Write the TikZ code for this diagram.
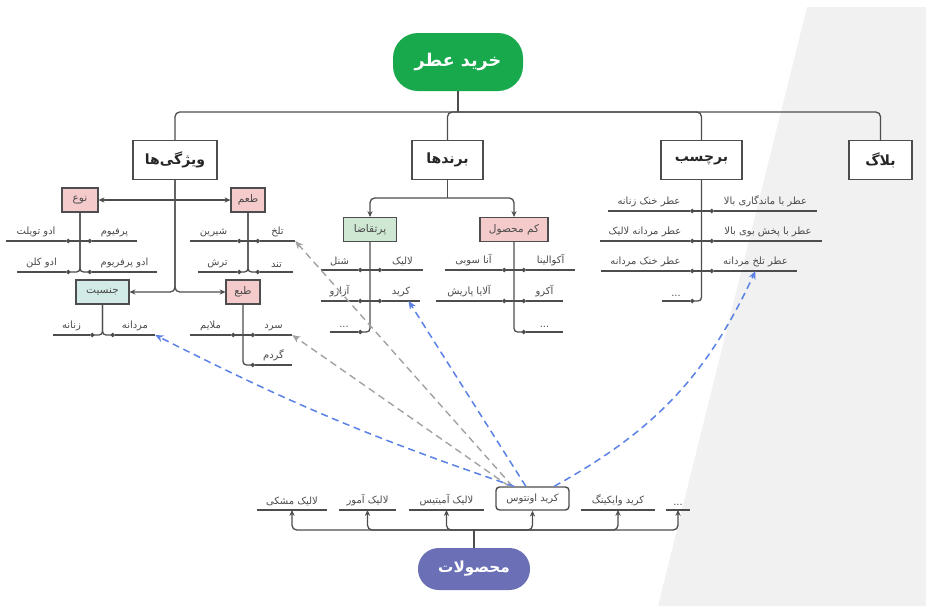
\documentclass[tikz,border=0pt]{standalone}
\usepackage{fontspec}
\newfontfamily\fafont[Script=Arabic]{DejaVu Sans}
\TeXXeTstate=1
\usetikzlibrary{arrows.meta}
\newcommand{\fatext}[1]{{\fafont\beginR #1\endR}}
\definecolor{linecol}{HTML}{4D4D4D}
\definecolor{leaftext}{HTML}{4A4A4A}
\definecolor{rootgreen}{HTML}{17A94C}
\definecolor{prodblue}{HTML}{6A6FB6}
\definecolor{pinkfill}{HTML}{F5CACA}
\definecolor{greenfill}{HTML}{CFE8D3}
\definecolor{tealfill}{HTML}{D2EBE7}
\definecolor{bluedash}{HTML}{5B82E4}
\definecolor{graydash}{HTML}{A2A2A2}
\definecolor{bggray}{HTML}{F1F1F1}
\tikzset{
	branch/.style={draw=linecol, line width=1.1pt},
	twig/.style={branch, -{Circle[length=3.6pt]}},
	feed/.style={branch, -{Stealth[length=5pt, width=4.5pt]}},
	leaf/.style={anchor=south, inner xsep=0pt, inner ysep=3.5pt, text=leaftext, font=\fontsize{8.5}{10}\selectfont,
		append after command={(\tikzlastnode.south west) edge [branch] (\tikzlastnode.south east)}},
	catbox/.style={draw=linecol, line width=1.2pt, fill=white, minimum height=1.17cm, text=black!85, font=\fontsize{12}{14}\selectfont\bfseries},
	subbox/.style={draw=linecol, line width=1pt, minimum height=0.72cm, text=leaftext, font=\fontsize{9}{11}\selectfont},
	bluelink/.style={draw=bluedash, line width=1.3pt, dash pattern=on 6pt off 4pt, -{Stealth[length=7pt, width=6pt]}},
	graylink/.style={draw=graydash, line width=1.2pt, dash pattern=on 6pt off 4pt, -{Stealth[length=7pt, width=6pt]}}
}
\begin{document}
\begin{tikzpicture}[x=0.03cm, y=-0.03cm]
	\useasboundingbox (0,0) rectangle (926,606);
	\fill [bggray] (807,7) -- (926,7) -- (926,606) -- (658,606) -- cycle;

	\node [fill=rootgreen, rounded corners=0.75cm, minimum width=3.9cm, minimum height=1.74cm, text=white, font=\fontsize{15}{17}\selectfont\bfseries] (kharid) at (458,62) {\fatext{خرید عطر}};

	\node [catbox, minimum width=2.52cm] (vizhegi) at (175,160) {\fatext{ویژگی‌ها}};
	\node [catbox, minimum width=2.13cm] (brands) at (447.5,160) {\fatext{برندها}};
	\node [catbox, minimum width=2.43cm] (barchasb) at (701.5,160) {\fatext{برچسب}};
	\node [catbox, minimum width=1.89cm] (blag) at (880.5,160) {\fatext{بلاگ}};

	\coordinate (top) at (458,112);
	\draw [branch] (kharid.south) -- (top);
	\draw [branch, rounded corners=4pt] (top) -| (vizhegi.north);
	\draw [branch, rounded corners=4pt] (top) -| (brands.north);
	\draw [branch, rounded corners=4pt] (top) -| (barchasb.north);
	\draw [branch, rounded corners=4pt] (top) -| (blag.north);

	\node [subbox, fill=pinkfill, minimum width=1.08cm] (nou) at (80,200) {\fatext{نوع}};
	\node [subbox, fill=pinkfill, minimum width=1.02cm] (taam) at (248,200) {\fatext{طعم}};
	\node [subbox, fill=tealfill, minimum width=1.59cm] (jensiat) at (102.5,292) {\fatext{جنسیت}};
	\node [subbox, fill=pinkfill, minimum width=1.02cm] (tab) at (243,292) {\fatext{طبع}};

	\draw [feed] (vizhegi.south |- nou.east) -- (nou.east);
	\draw [feed] (vizhegi.south |- taam.west) -- (taam.west);
	\draw [feed, rounded corners=4pt] (vizhegi.south) |- (jensiat.east);
	\draw [feed, rounded corners=4pt] (vizhegi.south) |- (tab.west);

	\node [leaf, minimum width=1.8cm] (edt) at (36,241) {\fatext{ادو تویلت}};
	\node [leaf, minimum width=1.35cm] (parfum) at (114.5,241) {\fatext{پرفیوم}};
	\node [leaf, minimum width=1.47cm] (edc) at (41.5,272) {\fatext{ادو کلن}};
	\node [leaf, minimum width=1.95cm] (edp) at (124.5,272) {\fatext{ادو پرفریوم}};
	\draw [twig] (nou.south |- edt.south east) -- (edt.south east);
	\draw [twig] (nou.south |- parfum.south west) -- (parfum.south west);
	\draw [twig, rounded corners=3pt] (nou.south) |- (edc.south east);
	\draw [twig, rounded corners=3pt] (nou.south) |- (edp.south west);

	\node [leaf, minimum width=1.41cm] (shirin) at (213.5,241) {\fatext{شیرین}};
	\node [leaf, minimum width=1.05cm] (talkh) at (277.5,241) {\fatext{تلخ}};
	\node [leaf, minimum width=1.17cm] (torsh) at (217.5,272) {\fatext{ترش}};
	\node [leaf, minimum width=0.99cm] (tond) at (276.5,272) {\fatext{تند}};
	\draw [twig] (taam.south |- shirin.south east) -- (shirin.south east);
	\draw [twig] (taam.south |- talkh.south west) -- (talkh.south west);
	\draw [twig, rounded corners=3pt] (taam.south) |- (torsh.south east);
	\draw [twig, rounded corners=3pt] (taam.south) |- (tond.south west);

	\node [leaf, minimum width=1.11cm] (zanane) at (71.5,335) {\fatext{زنانه}};
	\node [leaf, minimum width=1.2cm] (mardane) at (135,335) {\fatext{مردانه}};
	\draw [twig, rounded corners=3pt] (jensiat.south) |- (zanane.south east);
	\draw [twig, rounded corners=3pt] (jensiat.south) |- (mardane.south west);

	\node [leaf, minimum width=1.23cm] (molayem) at (210.5,335) {\fatext{ملایم}};
	\node [leaf, minimum width=1.11cm] (sard) at (273.5,335) {\fatext{سرد}};
	\node [leaf, minimum width=1.11cm] (gardom) at (273.5,365) {\fatext{گردم}};
	\draw [twig] (tab.south |- molayem.south east) -- (molayem.south east);
	\draw [twig] (tab.south |- sard.south west) -- (sard.south west);
	\draw [twig, rounded corners=3pt] (tab.south) |- (gardom.south west);

	\node [subbox, fill=greenfill, minimum width=1.59cm] (portaghaza) at (370,229.5) {\fatext{پرتقاضا}};
	\node [subbox, fill=pinkfill, minimum width=2.04cm] (kammahsul) at (514,229.5) {\fatext{کم محصول}};
	\draw [branch] (brands.south) -- (447.5,198);
	\draw [feed, rounded corners=4pt] (447.5,198) -| (portaghaza.north);
	\draw [feed, rounded corners=4pt] (447.5,198) -| (kammahsul.north);

	\node [leaf, minimum width=1.11cm] (chanel) at (339.5,270) {\fatext{شنل}};
	\node [leaf, minimum width=1.23cm] (lalique) at (402.5,270) {\fatext{لالیک}};
	\node [leaf, minimum width=1.11cm] (azzaro) at (339.5,301) {\fatext{آزارو}};
	\node [leaf, minimum width=1.14cm] (creed) at (401,301) {\fatext{کرید}};
	\node [leaf, minimum width=0.84cm] (pmore) at (344,332) {\fafont ...};
	\draw [twig] (portaghaza.south |- chanel.south east) -- (chanel.south east);
	\draw [twig] (portaghaza.south |- lalique.south west) -- (lalique.south west);
	\draw [twig] (portaghaza.south |- azzaro.south east) -- (azzaro.south east);
	\draw [twig] (portaghaza.south |- creed.south west) -- (creed.south west);
	\draw [twig, rounded corners=3pt] (portaghaza.south) |- (pmore.south east);

	\node [leaf, minimum width=1.71cm] (annasui) at (473.5,270) {\fatext{آنا سوبی}};
	\node [leaf, minimum width=1.47cm] (aquolina) at (550.5,270) {\fatext{آکوالینا}};
	\node [leaf, minimum width=1.98cm] (alaia) at (469,301) {\fatext{آلایا پاریش}};
	\node [leaf, minimum width=1.11cm] (acro) at (544.5,301) {\fatext{آکرو}};
	\node [leaf, minimum width=1.11cm] (kmore) at (544.5,332) {\fafont ...};
	\draw [twig] (kammahsul.south |- annasui.south east) -- (annasui.south east);
	\draw [twig] (kammahsul.south |- aquolina.south west) -- (aquolina.south west);
	\draw [twig] (kammahsul.south |- alaia.south east) -- (alaia.south east);
	\draw [twig] (kammahsul.south |- acro.south west) -- (acro.south west);
	\draw [twig, rounded corners=3pt] (kammahsul.south) |- (kmore.south west);

	\node [leaf, minimum width=2.46cm] (khonakzan) at (649,211) {\fatext{عطر خنک زنانه}};
	\node [leaf, minimum width=3.09cm] (mandegari) at (765.5,211) {\fatext{عطر با ماندگاری بالا}};
	\node [leaf, minimum width=2.7cm] (mardlalique) at (645,241) {\fatext{عطر مردانه لالیک}};
	\node [leaf, minimum width=3.24cm] (pakhsh) at (768,241) {\fatext{عطر با پخش بوی بالا}};
	\node [leaf, minimum width=2.67cm] (khonakmard) at (645.5,271) {\fatext{عطر خنک مردانه}};
	\node [leaf, minimum width=2.49cm] (talkhmard) at (755.5,271) {\fatext{عطر تلخ مردانه}};
	\node [leaf, minimum width=0.84cm] (tmore) at (676,301) {\fafont ...};
	\draw [twig] (barchasb.south |- khonakzan.south east) -- (khonakzan.south east);
	\draw [twig] (barchasb.south |- mandegari.south west) -- (mandegari.south west);
	\draw [twig] (barchasb.south |- mardlalique.south east) -- (mardlalique.south east);
	\draw [twig] (barchasb.south |- pakhsh.south west) -- (pakhsh.south west);
	\draw [twig] (barchasb.south |- khonakmard.south east) -- (khonakmard.south east);
	\draw [twig] (barchasb.south |- talkhmard.south west) -- (talkhmard.south west);
	\draw [twig, rounded corners=3pt] (barchasb.south) |- (tmore.south east);

	\node [fill=prodblue, rounded corners=0.62cm, minimum width=3.36cm, minimum height=1.26cm, text=white, font=\fontsize{13}{15}\selectfont\bfseries] (mahsulat) at (474,569) {\fatext{محصولات}};
	\node [leaf, minimum width=2.1cm] (meshki) at (292,510) {\fatext{لالیک مشکی}};
	\node [leaf, minimum width=1.71cm] (amour) at (367.5,510) {\fatext{لالیک آمور}};
	\node [leaf, minimum width=2.25cm] (amethyst) at (446.5,510) {\fatext{لالیک آمیتیس}};
	\node [draw=linecol, line width=1.2pt, rounded corners=3pt, fill=white, minimum width=2.19cm, minimum height=0.69cm, text=leaftext, font=\fontsize{8.5}{10}\selectfont] (aventus) at (532.5,498.5) {\fatext{کرید اونتوس}};
	\node [leaf, minimum width=2.22cm] (viking) at (618,510) {\fatext{کرید وایکینگ}};
	\node [leaf, minimum width=0.72cm] (prmore) at (678,510) {\fafont ...};

	\coordinate (hub) at (474,530);
	\draw [branch] (mahsulat.north) -- (hub);
	\draw [feed, rounded corners=4pt] (hub) -| (meshki.south);
	\draw [feed, rounded corners=4pt] (hub) -| (amour.south);
	\draw [feed, rounded corners=4pt] (hub) -| (amethyst.south);
	\draw [feed, rounded corners=4pt] (hub) -| (aventus.south);
	\draw [feed, rounded corners=4pt] (hub) -| (viking.south);
	\draw [feed, rounded corners=4pt] (hub) -| (prmore.south);

	\draw [graylink] ([xshift=-0.6cm]aventus.north) -- (talkh.south east);
	\draw [graylink] ([xshift=-0.7cm]aventus.north) -- (sard.south east);
	\draw [bluelink] ([xshift=-0.55cm]aventus.north) to [bend left=4] (mardane.south east);
	\draw [bluelink] ([xshift=-0.2cm]aventus.north) -- ([xshift=-0.35cm]creed.south east);
	\draw [bluelink] ([xshift=0.65cm]aventus.north) to [bend right=18] (talkhmard.south);
\end{tikzpicture}
\end{document}
